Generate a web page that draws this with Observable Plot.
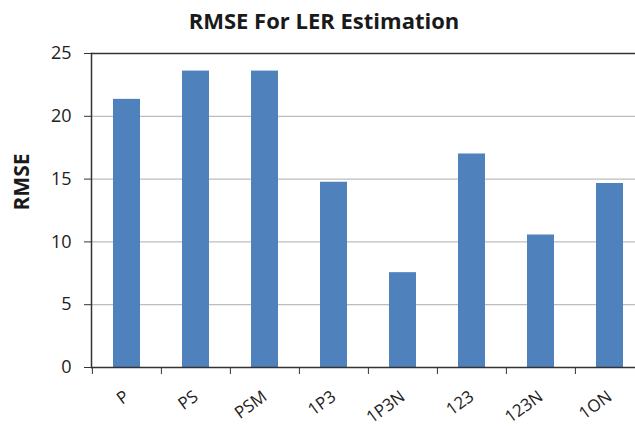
<!DOCTYPE html>
<html><head><meta charset="utf-8">
<script src="https://cdn.jsdelivr.net/npm/d3@7"></script>
<script src="https://cdn.jsdelivr.net/npm/@observablehq/plot@0.6"></script>
<style>
html,body{margin:0;padding:0;background:#fff;overflow:hidden;width:635px;height:428px}
#title{position:relative;width:648px;height:40px;line-height:40px;text-align:center;font-family:'Open Sans',sans-serif;font-weight:bold;font-size:22px;color:#1a1a1a}
#chart svg{display:block;max-width:none !important}
</style></head><body>
<div id="title">RMSE For LER Estimation</div>
<div id="chart"></div>
<script>
const categories = ["P","PS","PSM","1P3","1P3N","123","123N","1ON"];
const rmse = [21.35, 23.6, 23.6, 14.75, 7.55, 17.0, 10.55, 14.65];
const yTicks = [0,5,10,15,20,25];
const gridTicks = [5,10,15,20];
const yLabel = "RMSE";
const data = categories.map((c,i)=>({category:c, value:rmse[i]}));
const chart = Plot.plot({
  width: 650, height: 388,
  marginTop: 13, marginBottom: 61, marginLeft: 91, marginRight: 5,
  style: {fontFamily: "'Open Sans', sans-serif", fontSize: "18px", color:"#222", background:"#fff", overflow:"visible", maxWidth:"none"},
  x: {domain: categories, paddingInner: 0.61, paddingOuter: 0.305},
  y: {domain: [0,25]},
  marks: [
    Plot.ruleY(gridTicks, {stroke:"#bdbdbd", strokeWidth:1.3}),
    Plot.barY(data, {x:"category", y:"value", fill:"#4F81BD"}),
    Plot.ruleY([25], {stroke:"#333", strokeWidth:1.5}),
    Plot.ruleY([0], {stroke:"#333", strokeWidth:1.5}),
    Plot.frame({anchor:"left", stroke:"#333", strokeWidth:1.5}),
    Plot.axisY({ticks: yTicks, tickSize: 7, tickPadding: 13, label: null, stroke:"#333"}),
    Plot.axisX({tickSize: 7, text: null, dx: -34.6, label: null, stroke:"#333"}),
    Plot.axisX({tickSize: 0, tickRotate: -36, tickPadding: 27, dx: 0, fontSize: 17, label: null}),
    Plot.text([yLabel], {frameAnchor:"left", rotate:-90, dx:-69.5, fontWeight:"bold", fontSize:21, fill:"#1a1a1a"})
  ]
});
document.getElementById("chart").appendChild(chart);
</script>
</body></html>
